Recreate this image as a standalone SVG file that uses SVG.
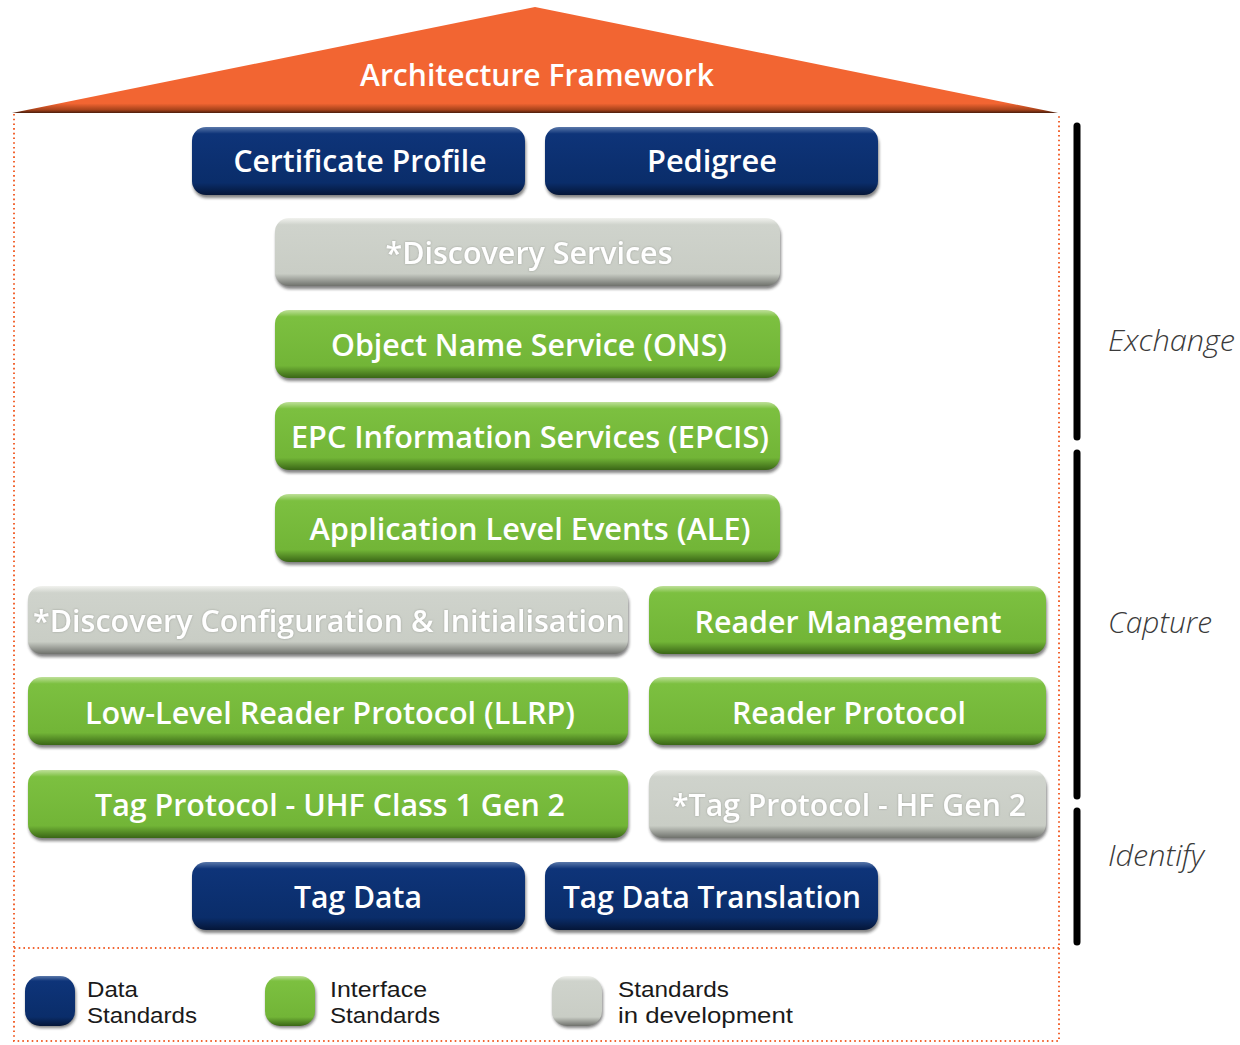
<svg xmlns="http://www.w3.org/2000/svg" width="1240" height="1045" viewBox="0 0 1240 1045">
<defs>
<linearGradient id="gNavy" x1="0" y1="0" x2="0" y2="1">
<stop offset="0" stop-color="#5a78aa"/><stop offset="0.1" stop-color="#0e3479"/><stop offset="0.82" stop-color="#0a2d6a"/><stop offset="1" stop-color="#051638"/>
</linearGradient>
<linearGradient id="gGreen" x1="0" y1="0" x2="0" y2="1">
<stop offset="0" stop-color="#bfe09a"/><stop offset="0.1" stop-color="#7cc040"/><stop offset="0.82" stop-color="#72b537"/><stop offset="1" stop-color="#3a6616"/>
</linearGradient>
<linearGradient id="gGrey" x1="0" y1="0" x2="0" y2="1">
<stop offset="0" stop-color="#f1f2ee"/><stop offset="0.1" stop-color="#cfd3cc"/><stop offset="0.82" stop-color="#c9cdc5"/><stop offset="1" stop-color="#6f716c"/>
</linearGradient>
<linearGradient id="gRoof" gradientUnits="userSpaceOnUse" x1="0" y1="8" x2="0" y2="114">
<stop offset="0" stop-color="#f26532"/><stop offset="0.9" stop-color="#f26532"/><stop offset="0.96" stop-color="#a8431b"/><stop offset="1" stop-color="#2e1207"/>
</linearGradient>
<filter id="sh" x="-5%" y="-10%" width="110%" height="130%">
<feGaussianBlur stdDeviation="1.5"/>
</filter>
<filter id="glow" x="-5%" y="-20%" width="110%" height="140%">
<feGaussianBlur in="SourceAlpha" stdDeviation="1.2" result="b"/>
<feFlood flood-color="#8a8d86" flood-opacity="0.7"/>
<feComposite in2="b" operator="in" result="g"/>
<feMerge><feMergeNode in="g"/><feMergeNode in="SourceGraphic"/></feMerge>
</filter>
</defs>
<style>
.shadow{fill:#1a1a1a;opacity:0.55;filter:url(#sh)}
.navy{fill:url(#gNavy)}
.green{fill:url(#gGreen)}
.grey{fill:url(#gGrey)}
.lbl{font-family:"Open Sans","Noto Sans","Liberation Sans",sans-serif;font-weight:600;font-size:30px;fill:#ffffff;text-anchor:middle}
.glbl{filter:url(#glow)}
.dot{fill:none;stroke:#f26532;stroke-width:2;stroke-dasharray:1.6 3.1}
.bar{stroke:#000;stroke-width:7;stroke-linecap:round}
.side{font-family:"Open Sans","Noto Sans","Liberation Sans",sans-serif;font-style:italic;font-weight:300;font-size:30px;fill:#3a3a3a}
.leg{font-family:"Liberation Sans","Open Sans",sans-serif;font-size:22px;fill:#1a1a1a}
</style>
<rect width="1240" height="1045" fill="#ffffff"/>

<g id="roof">
<polygon points="12,113 535,7 1058,113" fill="url(#gRoof)"/>
<text x="537" y="86" class="lbl" font-size="31" textLength="354" lengthAdjust="spacingAndGlyphs">Architecture Framework</text>
</g>

<g id="frame">
<path class="dot" d="M14,114 V1041 H1059 V114"/>
<path class="dot" d="M14,948 H1059"/>
</g>

<g id="bars">
<line class="bar" x1="1077" y1="126" x2="1077" y2="437"/>
<line class="bar" x1="1077" y1="453" x2="1077" y2="796"/>
<line class="bar" x1="1077" y1="811" x2="1077" y2="942"/>
<text class="side" x="1108" y="351" textLength="127" lengthAdjust="spacingAndGlyphs">Exchange</text>
<text class="side" x="1108" y="633" textLength="104" lengthAdjust="spacingAndGlyphs">Capture</text>
<text class="side" x="1108" y="866" textLength="96" lengthAdjust="spacingAndGlyphs">Identify</text>
</g>

<g id="n-certificate">
<rect class="shadow" x="193" y="131" width="333" height="67" rx="14"/>
<rect class="navy" x="192" y="127" width="333" height="68" rx="14"/>
<text class="lbl" x="360" y="172" textLength="253" lengthAdjust="spacingAndGlyphs">Certificate Profile</text>
</g>
<g id="n-pedigree">
<rect class="shadow" x="546" y="131" width="333" height="67" rx="14"/>
<rect class="navy" x="545" y="127" width="333" height="68" rx="14"/>
<text class="lbl" x="712" y="172" textLength="130" lengthAdjust="spacingAndGlyphs">Pedigree</text>
</g>
<g id="n-discovery">
<rect class="shadow" x="276" y="222" width="505" height="67" rx="14"/>
<rect class="grey" x="275" y="218" width="505" height="68" rx="14"/>
<text class="lbl glbl" x="529" y="264" textLength="287" lengthAdjust="spacingAndGlyphs">*Discovery Services</text>
</g>
<g id="n-ons">
<rect class="shadow" x="276" y="314" width="505" height="67" rx="14"/>
<rect class="green" x="275" y="310" width="505" height="68" rx="14"/>
<text class="lbl" x="529" y="356" textLength="396" lengthAdjust="spacingAndGlyphs">Object Name Service (ONS)</text>
</g>
<g id="n-epcis">
<rect class="shadow" x="276" y="406" width="505" height="67" rx="14"/>
<rect class="green" x="275" y="402" width="505" height="68" rx="14"/>
<text class="lbl" x="530" y="448" textLength="478" lengthAdjust="spacingAndGlyphs">EPC Information Services (EPCIS)</text>
</g>
<g id="n-ale">
<rect class="shadow" x="276" y="498" width="505" height="67" rx="14"/>
<rect class="green" x="275" y="494" width="505" height="68" rx="14"/>
<text class="lbl" x="530" y="540" textLength="441" lengthAdjust="spacingAndGlyphs">Application Level Events (ALE)</text>
</g>
<g id="n-dci">
<rect class="shadow" x="29" y="590" width="600" height="67" rx="14"/>
<rect class="grey" x="28" y="586" width="600" height="68" rx="14"/>
<text class="lbl glbl" x="329" y="632" textLength="592" lengthAdjust="spacingAndGlyphs">*Discovery Configuration &amp; Initialisation</text>
</g>
<g id="n-readermgmt">
<rect class="shadow" x="650" y="590" width="397" height="67" rx="14"/>
<rect class="green" x="649" y="586" width="397" height="68" rx="14"/>
<text class="lbl" x="848" y="633" textLength="307" lengthAdjust="spacingAndGlyphs">Reader Management</text>
</g>
<g id="n-llrp">
<rect class="shadow" x="29" y="681" width="600" height="67" rx="14"/>
<rect class="green" x="28" y="677" width="600" height="68" rx="14"/>
<text class="lbl" x="330" y="724" textLength="490" lengthAdjust="spacingAndGlyphs">Low-Level Reader Protocol (LLRP)</text>
</g>
<g id="n-readerprot">
<rect class="shadow" x="650" y="681" width="397" height="67" rx="14"/>
<rect class="green" x="649" y="677" width="397" height="68" rx="14"/>
<text class="lbl" x="849" y="724" textLength="234" lengthAdjust="spacingAndGlyphs">Reader Protocol</text>
</g>
<g id="n-uhf">
<rect class="shadow" x="29" y="774" width="600" height="67" rx="14"/>
<rect class="green" x="28" y="770" width="600" height="68" rx="14"/>
<text class="lbl" x="330" y="816" textLength="470" lengthAdjust="spacingAndGlyphs">Tag Protocol - UHF Class 1 Gen 2</text>
</g>
<g id="n-hf">
<rect class="shadow" x="650" y="774" width="397" height="67" rx="14"/>
<rect class="grey" x="649" y="770" width="397" height="68" rx="14"/>
<text class="lbl glbl" x="849" y="816" textLength="354" lengthAdjust="spacingAndGlyphs">*Tag Protocol - HF Gen 2</text>
</g>
<g id="n-tagdata">
<rect class="shadow" x="193" y="866" width="333" height="67" rx="14"/>
<rect class="navy" x="192" y="862" width="333" height="68" rx="14"/>
<text class="lbl" x="358" y="908" textLength="128" lengthAdjust="spacingAndGlyphs">Tag Data</text>
</g>
<g id="n-tdt">
<rect class="shadow" x="546" y="866" width="333" height="67" rx="14"/>
<rect class="navy" x="545" y="862" width="333" height="68" rx="14"/>
<text class="lbl" x="712" y="908" textLength="298" lengthAdjust="spacingAndGlyphs">Tag Data Translation</text>
</g>

<g id="legend">
<rect class="shadow" x="26" y="979" width="50" height="49" rx="15"/>
<rect class="navy" x="25" y="976" width="50" height="50" rx="15"/>
<text class="leg" x="87" y="997" textLength="51" lengthAdjust="spacingAndGlyphs">Data</text>
<text class="leg" x="87" y="1023" textLength="110" lengthAdjust="spacingAndGlyphs">Standards</text>
<rect class="shadow" x="266" y="979" width="50" height="49" rx="15"/>
<rect class="green" x="265" y="976" width="50" height="50" rx="15"/>
<text class="leg" x="330" y="997" textLength="97" lengthAdjust="spacingAndGlyphs">Interface</text>
<text class="leg" x="330" y="1023" textLength="110" lengthAdjust="spacingAndGlyphs">Standards</text>
<rect class="shadow" x="553" y="979" width="50" height="49" rx="15"/>
<rect class="grey" x="552" y="976" width="50" height="50" rx="15"/>
<text class="leg" x="618" y="997" textLength="111" lengthAdjust="spacingAndGlyphs">Standards</text>
<text class="leg" x="618" y="1023" textLength="175" lengthAdjust="spacingAndGlyphs">in development</text>
</g>
</svg>
